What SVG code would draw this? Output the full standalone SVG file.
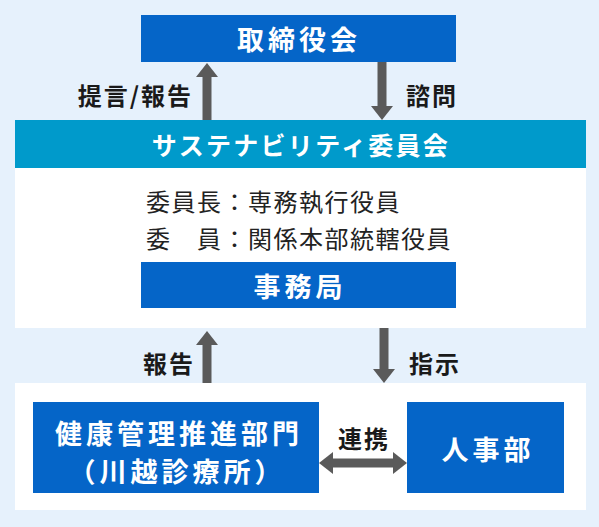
<svg xmlns="http://www.w3.org/2000/svg" width="599" height="527" viewBox="0 0 599 527">
<defs>
<style>
.jp{font-family:"Noto Sans CJK JP","Noto Sans",sans-serif}
.box{fill:#0565c8}
.wt{fill:#ffffff;font-weight:bold;text-anchor:middle;dominant-baseline:central}
.lbl{fill:#1a1a1a;font-weight:bold;font-size:24px;dominant-baseline:central}
.body{fill:#222222;font-size:24px;letter-spacing:1.5px;dominant-baseline:central}
.arr{stroke:#5a5a5a;stroke-width:9;fill:none}
</style>
<marker id="ah" viewBox="0 0 14 22" markerWidth="14" markerHeight="22" refX="0" refY="11" orient="auto-start-reverse" markerUnits="userSpaceOnUse">
<path d="M0,0 L14,11 L0,22 z" fill="#5a5a5a"/>
</marker>
</defs>
<rect width="599" height="527" fill="#e6f1fc"/>
<rect x="15" y="383" width="571" height="127" fill="#ffffff"/>
<g id="board">
<rect class="box" x="141" y="15" width="315" height="47"/>
<text class="jp wt" x="299" y="38.5" font-size="27" letter-spacing="4">取締役会</text>
</g>
<g id="committee">
<rect x="15" y="168" width="571" height="160" fill="#ffffff"/>
<rect x="15" y="120" width="571" height="48" fill="#009acb"/>
<text class="jp wt" x="301" y="144" font-size="25" letter-spacing="2.3">サステナビリティ委員会</text>
<text class="jp body" x="146" y="200">委員長：専務執行役員</text>
<text class="jp body" x="146" y="237">委　員：関係本部統轄役員</text>
</g>
<g id="secretariat">
<rect class="box" x="141" y="262" width="315" height="46"/>
<text class="jp wt" x="300" y="285" font-size="27" letter-spacing="4">事務局</text>
</g>
<g id="health">
<rect class="box" x="33" y="402" width="286" height="91"/>
<text class="jp wt" x="179" y="432" font-size="27" letter-spacing="4">健康管理推進部門</text>
<text class="jp wt" x="177" y="470" font-size="27" letter-spacing="4">（川越診療所）</text>
</g>
<g id="hr">
<rect class="box" x="407" y="402" width="157" height="91"/>
<text class="jp wt" x="488" y="448" font-size="27" letter-spacing="4">人事部</text>
</g>
<g id="connectors">
<line class="arr" x1="207" y1="120" x2="207" y2="77" marker-end="url(#ah)"/>
<line class="arr" x1="382" y1="62" x2="382" y2="106" marker-end="url(#ah)"/>
<line class="arr" x1="207" y1="383" x2="207" y2="345" marker-end="url(#ah)"/>
<line class="arr" x1="384" y1="328" x2="384" y2="369" marker-end="url(#ah)"/>
<line class="arr" x1="333" y1="463" x2="393" y2="463" marker-start="url(#ah)" marker-end="url(#ah)"/>
<text class="jp lbl" x="193" y="94" text-anchor="end" letter-spacing="2">提言/報告</text>
<text class="jp lbl" x="406" y="94" letter-spacing="2">諮問</text>
<text class="jp lbl" x="195" y="362" text-anchor="end" letter-spacing="2">報告</text>
<text class="jp lbl" x="409" y="362" letter-spacing="2">指示</text>
<text class="jp lbl" x="364" y="437" text-anchor="middle" letter-spacing="2">連携</text>
</g>
</svg>
